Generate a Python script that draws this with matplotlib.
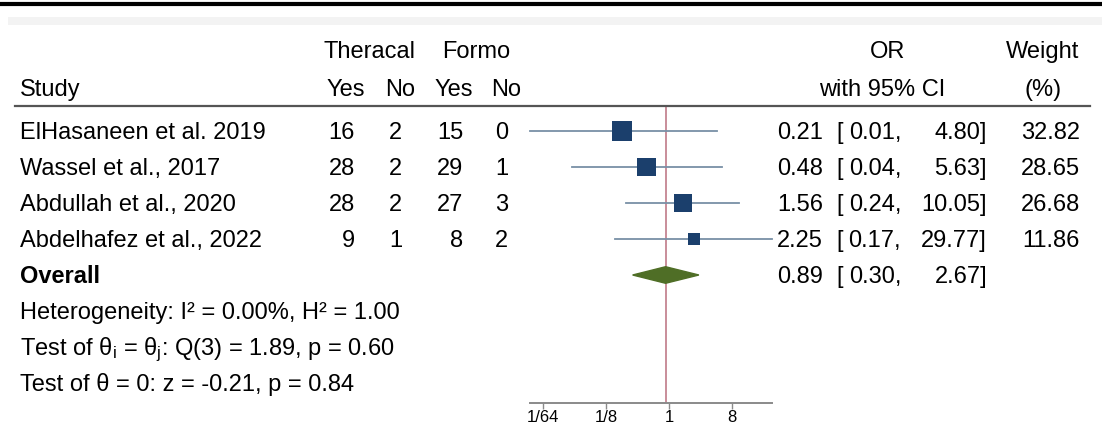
import matplotlib.pyplot as plt
import matplotlib.transforms as mtransforms
from matplotlib.patches import Polygon, Rectangle
from matplotlib.lines import Line2D

plt.rcParams['font.family'] = ['Liberation Sans', 'DejaVu Sans']
plt.rcParams['mathtext.fontset'] = 'custom'
plt.rcParams['mathtext.rm'] = 'Liberation Sans'
plt.rcParams['mathtext.it'] = 'Liberation Sans:italic'

studies = ['ElHasaneen et al. 2019', 'Wassel et al., 2017',
           'Abdullah et al., 2020', 'Abdelhafez et al., 2022']
thera_yes = [16, 28, 28, 9]
thera_no = [2, 2, 2, 1]
formo_yes = [15, 29, 27, 8]
formo_no = [0, 1, 3, 2]
odds = [0.21, 0.48, 1.56, 2.25]
ci_low = [0.01, 0.04, 0.24, 0.17]
ci_high = [4.80, 5.63, 10.05, 29.77]
weights = [32.82, 28.65, 26.68, 11.86]

overall_or = 0.89
overall_low = 0.30
overall_high = 2.67

stats_lines = ['Heterogeneity: I² = 0.00%, H² = 1.00',
               r'Test of θ$_\mathrm{i}$ = θ$_\mathrm{j}$: Q(3) = 1.89, p = 0.60',
               'Test of θ = 0: z = -0.21, p = 0.84']

tick_vals = [1/64, 1/8, 1, 8]
tick_labels = ['1/64', '1/8', '1', '8']

W, H = 1102, 425
FS = 17
navy = '#1b3f6c'
ci_col = '#7890a6'
green = '#4f6e26'

fig = plt.figure(figsize=(W / 100, H / 100), dpi=100)

def fx(x):
    return x / W

def fy(y):
    return 1 - y / H

# plot area in pixels, rows every 36 px starting at 131
left, right, top, bottom = 529.5, 772, 107, 403
row0, step = 131, 36
ax = fig.add_axes([fx(left), fy(bottom), fx(right - left), (bottom - top) / H])
ax.set_xscale('log', base=2)
ax.set_xlim(min(ci_low), max(ci_high))
ax.set_ylim((bottom - row0) / step, (top - row0) / step)

for s in ['top', 'right', 'left']:
    ax.spines[s].set_visible(False)
ax.spines['bottom'].set_color('#8a8a8a')
ax.spines['bottom'].set_linewidth(1.4)
ax.set_yticks([])
ax.set_xticks(tick_vals)
ax.set_xticklabels(tick_labels, fontsize=12)
ax.xaxis.set_minor_locator(plt.NullLocator())
ax.tick_params(axis='x', length=4, width=1, color='#8a8a8a', pad=1)
ax.patch.set_alpha(0)

# line at the pooled estimate
ax.axvline(overall_or, color='#c98d9a', lw=1.4, zorder=1)

rows = list(range(len(studies)))
for i in rows:
    ax.plot([ci_low[i], ci_high[i]], [i, i], color=ci_col, lw=1.3,
            clip_on=False, zorder=2)
ax.scatter(odds, rows, marker='s', s=[6.4 * w for w in weights],
           color=navy, zorder=3, clip_on=False, linewidths=0)

ov = len(studies)
dh = 0.23
ax.add_patch(Polygon([(overall_low, ov), (overall_or, ov - dh),
                      (overall_high, ov), (overall_or, ov + dh)],
                     closed=True, color=green, zorder=3, clip_on=False))

# text placed by row with x in figure fraction
tr = mtransforms.blended_transform_factory(fig.transFigure, ax.transData)
base = 0.235

def put(x, row, s, ha='left', **kw):
    fig.text(fx(x), row + base, s, ha=ha, va='baseline', fontsize=FS,
             transform=tr, **kw)

# headers
put(369, -2.25, 'Theracal', ha='center')
put(476, -2.25, 'Formo', ha='center')
put(888, -2.25, 'OR', ha='center')
put(1043, -2.25, 'Weight', ha='center')
put(20, -1.22, 'Study')
for x, s in zip([365, 415, 473, 521], ['Yes', 'No', 'Yes', 'No']):
    put(x, -1.22, s, ha='right')
put(882, -1.22, 'with 95% CI', ha='center')
put(1043, -1.22, '(%)', ha='center')

def ci_text(row, est, lo, hi):
    put(823, row, f'{est:.2f}', ha='right')
    put(836, row, '[')
    put(901, row, f'{lo:.2f},', ha='right')
    put(987, row, f'{hi:.2f}]', ha='right')

for i in rows:
    put(20, i, studies[i])
    put(355, i, str(thera_yes[i]), ha='right')
    put(402, i, str(thera_no[i]), ha='right')
    put(463, i, str(formo_yes[i]), ha='right')
    put(508, i, str(formo_no[i]), ha='right')
    ci_text(i, odds[i], ci_low[i], ci_high[i])
    put(1080, i, f'{weights[i]:.2f}', ha='right')

put(20, ov, 'Overall', fontweight='bold')
ci_text(ov, overall_or, overall_low, overall_high)

for k, s in enumerate(stats_lines):
    put(20, ov + 1 + k, s)

# rules
fig.add_artist(Line2D([fx(15), fx(1090)], [fy(106), fy(106)],
                      color='#555555', lw=1.6))
fig.add_artist(Line2D([0, 1], [fy(4), fy(4)], color='black', lw=3))
fig.add_artist(Rectangle((fx(8), fy(25)), 1, 8 / H, color='#f3f3f3',
                         lw=0, transform=fig.transFigure))

fig.savefig('out.png', dpi=100)
